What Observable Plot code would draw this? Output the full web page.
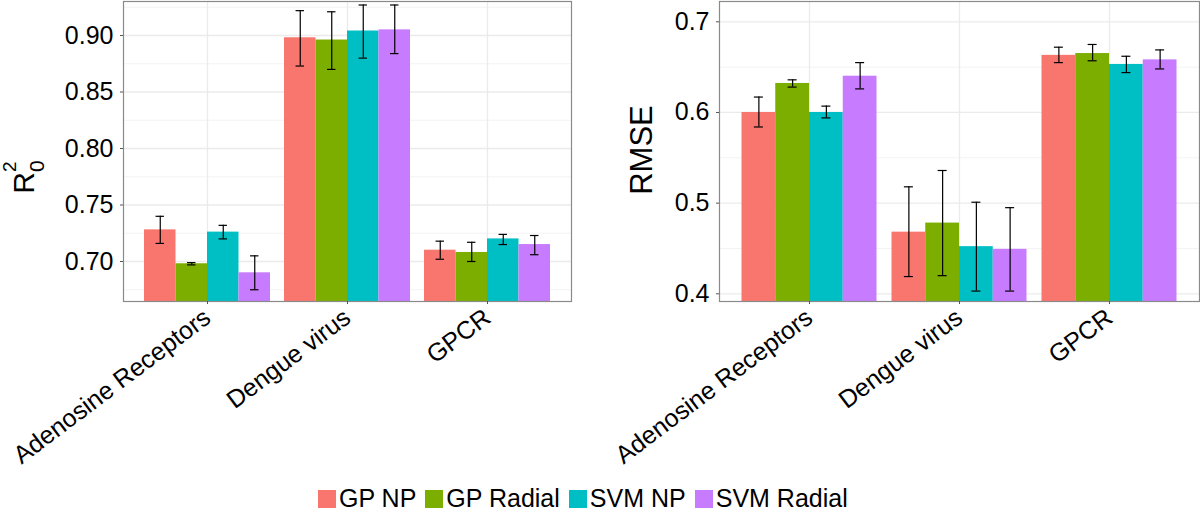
<!DOCTYPE html>
<html>
<head>
<meta charset="utf-8">
<script src="https://cdn.jsdelivr.net/npm/d3@7"></script>
<script src="https://cdn.jsdelivr.net/npm/@observablehq/plot@0.6"></script>
<style>
  body { margin: 0; background: #fff; font-family: "Liberation Sans", Arial, sans-serif; }
  #wrap { position: relative; width: 1200px; height: 514px; overflow: hidden; background: #fff; }
  #left { position: absolute; left: 0; top: 0; }
  #right { position: absolute; left: 600px; top: 0; }
  #legend { position: absolute; left: 318px; top: 486px; display: flex; align-items: center;
            font-size: 25px; line-height: 1; color: #000; white-space: nowrap; }
  #legend .item { display: flex; align-items: center; margin-right: 9px; }
  #legend .sw { display: inline-block; width: 18px; height: 18px; margin-right: 3px; }
</style>
</head>
<body>
<div id="wrap">
  <div id="left"></div>
  <div id="right"></div>
  <div id="legend"></div>
</div>
<script>
// ---- data ----
const categories = ["Adenosine Receptors", "Dengue virus", "GPCR"];
const methods = ["GP NP", "GP Radial", "SVM NP", "SVM Radial"];
const methodColors = ["#F8766D", "#7CAE00", "#00BFC4", "#C77CFF"];

// rows: category, columns: method
const r2Mean = [[0.728, 0.698, 0.726, 0.690], [0.898, 0.896, 0.904, 0.905], [0.710, 0.708, 0.720, 0.715]];
const r2Low  = [[0.716, 0.697, 0.720, 0.675], [0.873, 0.870, 0.880, 0.884], [0.702, 0.700, 0.715, 0.706]];
const r2High = [[0.740, 0.699, 0.732, 0.705], [0.922, 0.921, 0.927, 0.927], [0.718, 0.717, 0.724, 0.723]];

const rmseMean = [[0.600, 0.632, 0.600, 0.640], [0.468, 0.478, 0.452, 0.449], [0.663, 0.665, 0.653, 0.658]];
const rmseLow  = [[0.584, 0.628, 0.594, 0.626], [0.419, 0.420, 0.403, 0.403], [0.655, 0.657, 0.644, 0.648]];
const rmseHigh = [[0.617, 0.636, 0.607, 0.655], [0.518, 0.536, 0.501, 0.495], [0.672, 0.675, 0.662, 0.669]];

const r2Ticks = [0.70, 0.75, 0.80, 0.85, 0.90];
const r2MinorTicks = [0.675, 0.725, 0.775, 0.825, 0.875, 0.925];
const r2Domain = [0.6646, 0.9301];

const rmseTicks = [0.4, 0.5, 0.6, 0.7];
const rmseMinorTicks = [0.45, 0.55, 0.65];
const rmseDomain = [0.3915, 0.7224];

// ---- helpers ----
const dodge = 0.9;
const barW = dodge / methods.length;
const capHalf = 0.03;

function buildRows(mean, low, high) {
  const rows = [];
  categories.forEach((cat, ci) => {
    methods.forEach((m, mi) => {
      rows.push({cat, ci, method: m, mi, mean: mean[ci][mi], lo: low[ci][mi], hi: high[ci][mi]});
    });
  });
  return rows;
}
const left = d => d.ci - dodge / 2 + d.mi * barW;
const right = d => d.ci - dodge / 2 + (d.mi + 1) * barW;
const mid = d => d.ci - dodge / 2 + (d.mi + 0.5) * barW;

function chart({rows, domain, ticks, minorTicks, fmt, marginLeft, marginRight}) {
  return Plot.plot({
    width: 600,
    height: 470,
    marginLeft, marginRight,
    marginTop: 1,
    marginBottom: 169,
    style: {fontFamily: "Liberation Sans, Arial, sans-serif", fontSize: "25px", color: "#000", background: "transparent"},
    x: {domain: [-0.6, categories.length - 0.4]},
    y: {domain},
    color: {domain: methods, range: methodColors},
    marks: [
      Plot.ruleY(minorTicks, {stroke: "#F3F3F3", strokeWidth: 1}),
      Plot.ruleY(ticks, {stroke: "#EBEBEB", strokeWidth: 1.3}),
      Plot.ruleX(d3.range(categories.length), {stroke: "#EBEBEB", strokeWidth: 1.3}),
      Plot.rectY(rows, {x1: left, x2: right, y1: 0, y2: "mean", fill: "method", clip: true}),
      Plot.ruleX(rows, {x: mid, y1: "lo", y2: "hi", stroke: "#000", strokeWidth: 1.2}),
      Plot.ruleY(rows, {y: "lo", x1: d => mid(d) - capHalf, x2: d => mid(d) + capHalf, stroke: "#000", strokeWidth: 1.2}),
      Plot.ruleY(rows, {y: "hi", x1: d => mid(d) - capHalf, x2: d => mid(d) + capHalf, stroke: "#000", strokeWidth: 1.2}),
      Plot.frame({stroke: "#8a8a8a", strokeWidth: 1.2}),
      Plot.axisY(ticks, {tickFormat: d3.format(fmt), tickSize: 3, tickPadding: 7, stroke: "#555", fontSize: 25, label: null}),
      Plot.axisX(d3.range(categories.length), {tickFormat: i => categories[i], tickRotate: -37, tickSize: 3, tickPadding: 10, stroke: "#555", fontSize: 25, label: null})
    ]
  });
}

const leftPlot = chart({rows: buildRows(r2Mean, r2Low, r2High), domain: r2Domain, ticks: r2Ticks,
  minorTicks: r2MinorTicks, fmt: ".2f", marginLeft: 123, marginRight: 29});
const rightPlot = chart({rows: buildRows(rmseMean, rmseLow, rmseHigh), domain: rmseDomain, ticks: rmseTicks,
  minorTicks: rmseMinorTicks, fmt: ".1f", marginLeft: 119, marginRight: 1});

document.getElementById("left").appendChild(leftPlot);
document.getElementById("right").appendChild(rightPlot);

// y axis titles
const t1 = d3.select(leftPlot).append("text")
  .attr("transform", "translate(34,177) rotate(-90)")
  .attr("font-size", 30).attr("fill", "#000")
  .attr("font-family", "Liberation Sans, Arial, sans-serif");
t1.append("tspan").text("R");
t1.append("tspan").attr("dy", 10).attr("font-size", 21).text("0");
t1.append("tspan").attr("dx", -11.7).attr("dy", -28).attr("font-size", 19).text("2");

d3.select(rightPlot).append("text")
  .attr("transform", "translate(52,150) rotate(-90)")
  .attr("text-anchor", "middle")
  .attr("font-size", 31).attr("fill", "#000")
  .attr("font-family", "Liberation Sans, Arial, sans-serif")
  .text("RMSE");

// legend
const leg = d3.select("#legend");
methods.forEach((m, i) => {
  const item = leg.append("span").attr("class", "item");
  item.append("span").attr("class", "sw").style("background", methodColors[i]);
  item.append("span").text(m);
});
</script>
</body>
</html>
